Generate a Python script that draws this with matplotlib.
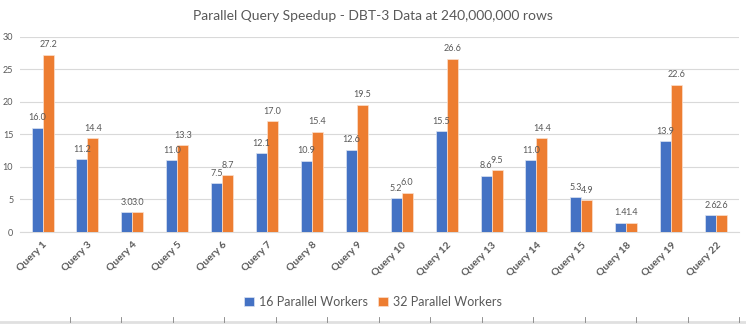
import numpy as np
import matplotlib.pyplot as plt
from matplotlib.lines import Line2D

plt.rcParams['font.family'] = ['Lato', 'DejaVu Sans']

queries = ['Query 1', 'Query 3', 'Query 4', 'Query 5', 'Query 6', 'Query 7', 'Query 8', 'Query 9',
           'Query 10', 'Query 12', 'Query 13', 'Query 14', 'Query 15', 'Query 18', 'Query 19', 'Query 22']
w16 = [16.0, 11.2, 3.0, 11.0, 7.5, 12.1, 10.9, 12.6, 5.2, 15.5, 8.6, 11.0, 5.3, 1.4, 13.9, 2.6]
w32 = [27.2, 14.4, 3.0, 13.3, 8.7, 17.0, 15.4, 19.5, 6.0, 26.6, 9.5, 14.4, 4.9, 1.4, 22.6, 2.6]

blue = '#4472C4'
orange = '#ED7D31'
grey = '#595959'

fig = plt.figure(figsize=(7.46, 3.27), dpi=100)
ax = fig.add_axes([0.027, 0.2905, 0.963, 0.5975])

x = np.arange(len(queries))
bw = 0.245
b1 = ax.bar(x - bw/2, w16, bw, color=blue, edgecolor='#dce4f2', linewidth=0.5, label='16 Parallel Workers', zorder=3)
b2 = ax.bar(x + bw/2, w32, bw, color=orange, edgecolor='#fbe0cf', linewidth=0.5, label='32 Parallel Workers', zorder=3)

for bars in (b1, b2):
    for b in bars:
        ax.annotate(f'{b.get_height():.1f}', (b.get_x() + b.get_width()/2, b.get_height()),
                    xytext=(0, 4), textcoords='offset points', ha='center', va='bottom',
                    fontsize=6.5, color=grey)

ax.set_xlim(-0.5, len(queries) - 0.5)
ax.set_ylim(0, 30)
ax.set_yticks(range(0, 31, 5))
ax.yaxis.grid(True, color='#d9d9d9', linewidth=0.8, zorder=0)
ax.set_axisbelow(True)
for s in ['top', 'right', 'left']:
    ax.spines[s].set_visible(False)
ax.spines['bottom'].set_color('#d9d9d9')
ax.tick_params(axis='both', length=0, colors=grey)
ax.tick_params(axis='y', labelsize=6.5, pad=5)
ax.set_xticks(x)
ax.set_xticklabels(queries, rotation=45, ha='right', rotation_mode='anchor',
                   fontsize=7.5, fontweight='bold', color=grey)
ax.tick_params(axis='x', pad=6)

fig.text(0.5, 0.95, 'Parallel Query Speedup - DBT-3 Data at 240,000,000 rows',
         ha='center', va='center', fontsize=10, color=grey)

fig.legend(handles=[b1, b2], loc='center', bbox_to_anchor=(0.5, 0.077), ncol=2, frameon=False,
           fontsize=9, labelcolor=grey, handlelength=0.8, handleheight=0.8, handletextpad=0.4,
           columnspacing=0.8)

# sheet border at the very bottom
fig.add_artist(Line2D([0, 1], [0.015, 0.015], color='#e0e0e0', linewidth=2, transform=fig.transFigure))
for xp in [70, 121, 173, 224, 276, 327, 379, 430, 482, 533, 585, 636, 688, 739]:
    fig.add_artist(Line2D([xp/746, xp/746], [0.015, 0.03], color='#808080', linewidth=0.6,
                          transform=fig.transFigure))

fig.savefig('out.png', dpi=100)
